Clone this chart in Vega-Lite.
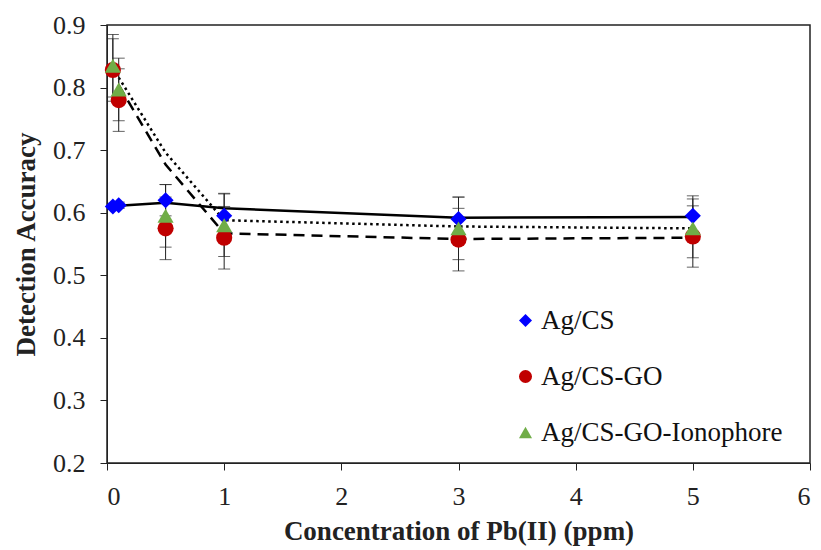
{
  "$schema": "https://vega.github.io/schema/vega-lite/v6.json",
  "width": 703,
  "height": 438,
  "autosize": {"type": "none"},
  "padding": {"left": 107, "top": 25, "right": 11, "bottom": 87},
  "background": "white",
  "config": {
    "view": {"stroke": "#222", "strokeWidth": 1.5},
    "font": "Liberation Serif",
    "axis": {
      "labelFont": "Liberation Serif",
      "titleFont": "Liberation Serif",
      "labelColor": "#222",
      "titleColor": "#222",
      "domainColor": "#222",
      "tickColor": "#222",
      "grid": false,
      "labelFontSize": 26,
      "titleFontSize": 27,
      "titleFontWeight": "bold",
      "tickSize": 7,
      "tickWidth": 1
    },
    "legend": {
      "disable": false,
      "labelFont": "Liberation Serif",
      "labelFontSize": 27,
      "labelColor": "#111"
    }
  },
  "datasets": {
    "points": [
      {"series": "Ag/CS", "x": 0.05, "y": 0.61, "lo": 0.605, "hi": 0.615},
      {"series": "Ag/CS", "x": 0.1, "y": 0.612, "lo": 0.607, "hi": 0.617},
      {"series": "Ag/CS", "x": 0.5, "y": 0.62, "lo": 0.595, "hi": 0.645},
      {"series": "Ag/CS", "x": 1, "y": 0.595, "lo": 0.559, "hi": 0.631},
      {"series": "Ag/CS", "x": 3, "y": 0.59, "lo": 0.555, "hi": 0.625},
      {"series": "Ag/CS", "x": 5, "y": 0.595, "lo": 0.563, "hi": 0.627},
      {"series": "Ag/CS-GO", "x": 0.05, "y": 0.828, "lo": 0.778, "hi": 0.878},
      {"series": "Ag/CS-GO", "x": 0.1, "y": 0.78, "lo": 0.73, "hi": 0.83},
      {"series": "Ag/CS-GO", "x": 0.5, "y": 0.575, "lo": 0.525, "hi": 0.625},
      {"series": "Ag/CS-GO", "x": 1, "y": 0.56, "lo": 0.51, "hi": 0.61},
      {"series": "Ag/CS-GO", "x": 3, "y": 0.557, "lo": 0.507, "hi": 0.607},
      {"series": "Ag/CS-GO", "x": 5, "y": 0.562, "lo": 0.513, "hi": 0.611},
      {"series": "Ag/CS-GO-Ionophore", "x": 0.05, "y": 0.835, "lo": 0.785, "hi": 0.885},
      {"series": "Ag/CS-GO-Ionophore", "x": 0.1, "y": 0.797, "lo": 0.747, "hi": 0.847},
      {"series": "Ag/CS-GO-Ionophore", "x": 0.5, "y": 0.595, "lo": 0.545, "hi": 0.645},
      {"series": "Ag/CS-GO-Ionophore", "x": 1, "y": 0.58, "lo": 0.53, "hi": 0.63},
      {"series": "Ag/CS-GO-Ionophore", "x": 3, "y": 0.575, "lo": 0.525, "hi": 0.625},
      {"series": "Ag/CS-GO-Ionophore", "x": 5, "y": 0.575, "lo": 0.528, "hi": 0.622}
    ],
    "trend": [
      {"curve": "Ag/CS", "x": 0.1, "y": 0.611},
      {"curve": "Ag/CS", "x": 0.5, "y": 0.616},
      {"curve": "Ag/CS", "x": 1, "y": 0.607},
      {"curve": "Ag/CS", "x": 3, "y": 0.592},
      {"curve": "Ag/CS", "x": 5, "y": 0.593},
      {"curve": "Ag/CS-GO", "x": 0.1, "y": 0.804},
      {"curve": "Ag/CS-GO", "x": 0.5, "y": 0.677},
      {"curve": "Ag/CS-GO", "x": 1, "y": 0.567},
      {"curve": "Ag/CS-GO", "x": 3, "y": 0.558},
      {"curve": "Ag/CS-GO", "x": 5, "y": 0.56},
      {"curve": "Ag/CS-GO-Ionophore", "x": 0.1, "y": 0.816},
      {"curve": "Ag/CS-GO-Ionophore", "x": 0.5, "y": 0.696},
      {"curve": "Ag/CS-GO-Ionophore", "x": 1, "y": 0.588},
      {"curve": "Ag/CS-GO-Ionophore", "x": 3, "y": 0.578},
      {"curve": "Ag/CS-GO-Ionophore", "x": 5, "y": 0.575}
    ]
  },
  "encoding": {
    "x": {"field": "x", "type": "quantitative", "scale": {"domain": [0, 6]},
          "axis": {"values": [0, 1, 2, 3, 4, 5, 6], "format": "d", "title": "Concentration of Pb(II) (ppm)", "labelPadding": 13, "titlePadding": 9}},
    "y": {"field": "y", "type": "quantitative", "scale": {"domain": [0.2, 0.9]},
          "axis": {"values": [0.2, 0.3, 0.4, 0.5, 0.6, 0.7, 0.8, 0.9], "format": ".1f", "title": "Detection Accuracy", "labelPadding": 15, "titlePadding": 12}}
  },
  "layer": [
    {
      "data": {"name": "trend"},
      "transform": [{"filter": "datum.curve === 'Ag/CS'"}],
      "mark": {"type": "line", "color": "black", "strokeWidth": 2.5},
      "encoding": {}
    },
    {
      "data": {"name": "trend"},
      "transform": [{"filter": "datum.curve === 'Ag/CS-GO'"}],
      "mark": {"type": "line", "color": "black", "strokeWidth": 2.5, "strokeDash": [11, 7]},
      "encoding": {}
    },
    {
      "data": {"name": "trend"},
      "transform": [{"filter": "datum.curve === 'Ag/CS-GO-Ionophore'"}],
      "mark": {"type": "line", "color": "black", "strokeWidth": 2.5, "strokeDash": [2.5, 3.5]},
      "encoding": {}
    },
    {
      "data": {"name": "points"},
      "mark": {"type": "rule", "color": "#222", "strokeWidth": 1},
      "encoding": {
        "y": {"field": "lo", "type": "quantitative"},
        "y2": {"field": "hi"}
      }
    },
    {
      "data": {"name": "points"},
      "mark": {"type": "tick", "color": "#222", "thickness": 1, "size": 12, "orient": "horizontal"},
      "encoding": {
        "y": {"field": "lo", "type": "quantitative"}
      }
    },
    {
      "data": {"name": "points"},
      "mark": {"type": "tick", "color": "#222", "thickness": 1, "size": 12, "orient": "horizontal"},
      "encoding": {
        "y": {"field": "hi", "type": "quantitative"}
      }
    },
    {
      "data": {"name": "points"},
      "mark": {"type": "point", "filled": true, "opacity": 1, "size": 260},
      "encoding": {
        "color": {
          "field": "series", "type": "nominal",
          "scale": {"domain": ["Ag/CS", "Ag/CS-GO", "Ag/CS-GO-Ionophore"], "range": ["#0000FF", "#C00000", "#70AD47"]},
          "legend": {
            "title": null, "orient": "none", "legendX": 405, "legendY": 282,
            "rowPadding": 28, "symbolSize": 170, "labelOffset": 2, "labelLimit": 0, "labelFontSize": 27
          }
        },
        "shape": {
          "field": "series", "type": "nominal",
          "scale": {"domain": ["Ag/CS", "Ag/CS-GO", "Ag/CS-GO-Ionophore"], "range": ["diamond", "circle", "triangle-up"]},
          "legend": {
            "title": null, "orient": "none", "legendX": 405, "legendY": 282,
            "rowPadding": 28, "symbolSize": 170, "labelOffset": 2, "labelLimit": 0, "labelFontSize": 27
          }
        }
      }
    }
  ]
}
